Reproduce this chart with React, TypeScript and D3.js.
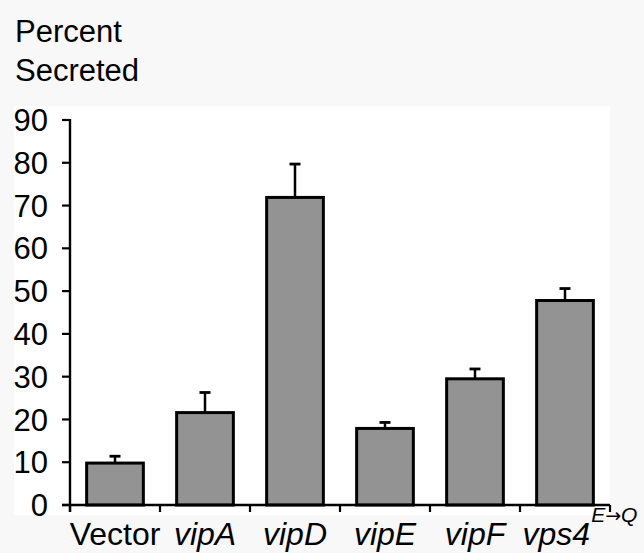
import React from "react";
import * as d3 from "d3";

const categories = ["Vector", "vipA", "vipD", "vipE", "vipF", "vps4"];
const italic = [false, true, true, true, true, true];
const supFrom = ["", "", "", "", "", "E"];
const supTo = ["", "", "", "", "", "Q"];
const values = [9.8, 21.6, 71.9, 17.9, 29.5, 47.8];
const errors = [11.4, 26.3, 79.7, 19.3, 31.8, 50.6];
const yTicks = [0, 10, 20, 30, 40, 50, 60, 70, 80, 90];

const W = 644;
const H = 553;
const FONT = "'Liberation Sans', Arial, Helvetica, sans-serif";

export default function App() {
  const x = d3
    .scaleBand<string>()
    .domain(categories)
    .range([70, 610])
    .paddingInner(0.37)
    .paddingOuter(0.185);
  const y = d3.scaleLinear().domain([0, 90]).range([505, 120]);
  const step = x.step();
  const bw = x.bandwidth();
  const y0 = y(0);

  return (
    <svg
      width={W}
      height={H}
      style={{ position: "fixed", left: 0, top: 0, display: "block" }}
      fontFamily={FONT}
    >
      <rect x={0} y={0} width={W} height={H} fill="#f8f8f8" />
      <rect x={14} y={106} width={596} height={409} fill="#ffffff" />

      <text x={15} y={42} fontSize={31} fill="#000">Percent</text>
      <text x={15} y={81} fontSize={31} fill="#000">Secreted</text>

      {/* bars */}
      {categories.map((c, i) => {
        const bx = x(c)!;
        const cx = bx + bw / 2;
        return (
          <g key={c}>
            <line x1={cx} x2={cx} y1={y(values[i])} y2={y(errors[i])} stroke="#000" strokeWidth={2.5} />
            <line x1={cx - 5.5} x2={cx + 5.5} y1={y(errors[i])} y2={y(errors[i])} stroke="#000" strokeWidth={2.8} />
            <rect
              x={bx}
              y={y(values[i])}
              width={bw}
              height={y0 - y(values[i])}
              fill="#939393"
              stroke="#000"
              strokeWidth={3}
            />
          </g>
        );
      })}

      {/* y axis */}
      <line x1={70} x2={70} y1={y(90) - 1} y2={512} stroke="#000" strokeWidth={2.4} />
      {yTicks.map((t) => (
        <g key={t}>
          <line x1={62} x2={70} y1={y(t)} y2={y(t)} stroke="#000" strokeWidth={2.2} />
          <text x={48} y={y(t)} dy="0.36em" textAnchor="end" fontSize={31} fill="#000">
            {t}
          </text>
        </g>
      ))}

      {/* x axis */}
      <line x1={62} x2={610} y1={y0} y2={y0} stroke="#000" strokeWidth={2.4} />
      {d3.range(categories.length + 1).map((k) => {
        const tx = 70 + k * step;
        return <line key={k} x1={tx} x2={tx} y1={y0} y2={y0 + 7} stroke="#000" strokeWidth={2.2} />;
      })}
      {categories.map((c, i) => (
        <text
          key={c}
          x={x(c)! + bw / 2}
          dx={supFrom[i] ? 15 : 0}
          y={545}
          textAnchor="middle"
          fontSize={32}
          fontStyle={italic[i] ? "italic" : "normal"}
          fill="#000"
        >
          {c}
          {supFrom[i] ? (
            <tspan fontSize={21} dx={1} dy={-23} fontStyle="italic">
              {supFrom[i]}
              <tspan fontFamily="'DejaVu Sans', sans-serif" fontStyle="normal" fontSize={19}>→</tspan>
              {supTo[i]}
            </tspan>
          ) : null}
        </text>
      ))}
    </svg>
  );
}
